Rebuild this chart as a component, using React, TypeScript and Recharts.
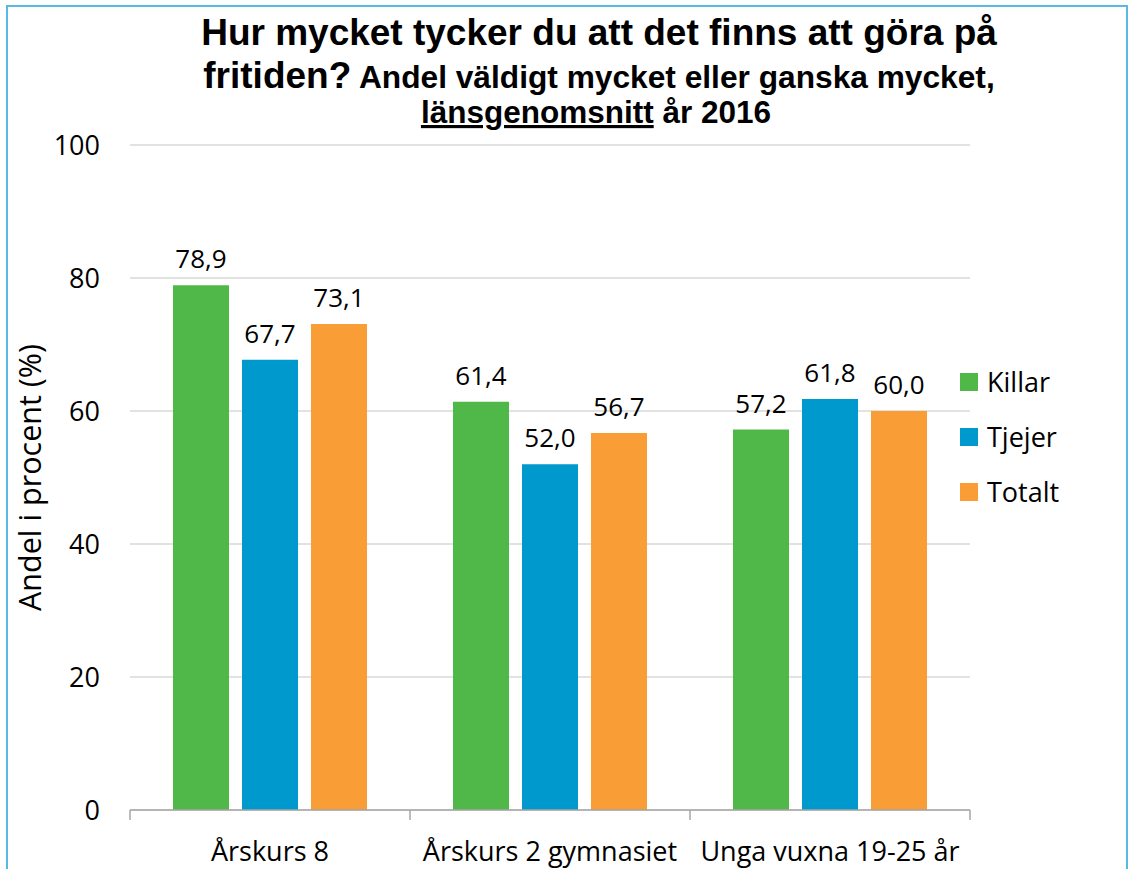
import React from 'react';
import { BarChart, Bar, XAxis, YAxis, CartesianGrid, LabelList, Legend } from 'recharts';

const categories = ['Årskurs 8', 'Årskurs 2 gymnasiet', 'Unga vuxna 19-25 år'];
const killar = [78.9, 61.4, 57.2];
const tjejer = [67.7, 52.0, 61.8];
const totalt = [73.1, 56.7, 60.0];
const yTicks = [0, 20, 40, 60, 80, 100];
const seriesNames = ['Killar', 'Tjejer', 'Totalt'];
const seriesColors = ['#50B848', '#0099CE', '#F99D36'];
const seriesValues = [killar, tjejer, totalt];

const data = categories.map((c, i) => {
  const row: any = { name: c };
  seriesNames.forEach((s, k) => {
    row[s] = seriesValues[k][i];
  });
  return row;
});

const FONT = '"Open Sans", "Noto Sans", sans-serif';
const TITLE_FONT = '"Liberation Sans", Arial, sans-serif';

const fmt = (v: any) => Number(v).toFixed(1).replace('.', ',');

const XTick = (props: any) => {
  const { x, y, payload, index, visibleTicksCount, width } = props;
  const half = payload && payload.offset ? payload.offset : width / visibleTicksCount / 2;
  const last = index === visibleTicksCount - 1;
  return (
    <g>
      <line x1={x - half} x2={x - half} y1={y} y2={y + 10} stroke="#A6A6A6" strokeWidth={1.5} />
      {last && <line x1={x + half} x2={x + half} y1={y} y2={y + 10} stroke="#A6A6A6" strokeWidth={1.5} />}
      <text x={x} y={y + 51} textAnchor="middle" fontSize={27} fontFamily={FONT} fill="#000">
        {payload.value}
      </text>
    </g>
  );
};

const LegendContent = () => (
  <div style={{ fontFamily: FONT, fontSize: 27, color: '#000' }}>
    {seriesNames.map((s, i) => (
      <div key={s} style={{ height: 55, display: 'flex', alignItems: 'center' }}>
        <div style={{ width: 18, height: 18, background: seriesColors[i], marginRight: 9 }} />
        <span>{s}</span>
      </div>
    ))}
  </div>
);

const YLabel = (props: any) => {
  const vb = props.viewBox || {};
  const cx = 29;
  const cy = (vb.y || 0) + (vb.height || 0) / 2;
  return (
    <text
      x={cx}
      y={cy}
      transform={`rotate(-90, ${cx}, ${cy})`}
      textAnchor="middle"
      dominantBaseline="central"
      fontSize={30.5}
      fontFamily={FONT}
      fill="#000"
    >
      Andel i procent (%)
    </text>
  );
};

export default function App() {
  return (
    <div style={{ position: 'fixed', left: 0, top: 0, width: 1130, height: 869, overflow: 'hidden', background: '#fff' }}>
      <div
        style={{
          position: 'absolute',
          left: 6,
          top: 5,
          width: 1122,
          height: 920,
          border: '2px solid #5AB9E3',
          boxSizing: 'border-box',
        }}
      />
      <div style={{ position: 'absolute', left: 0, top: 0 }}>
        <BarChart
          width={1130}
          height={869}
          data={data}
          margin={{ top: 145, right: 160, left: 0, bottom: 0 }}
          barCategoryGap={43}
          barGap={13}
        >
          <CartesianGrid horizontal vertical={false} stroke="#D9D9D9" strokeWidth={1.5} />
          <XAxis
            dataKey="name"
            height={59}
            axisLine={{ stroke: '#A6A6A6', strokeWidth: 1.5 }}
            tickLine={false}
            tickSize={0}
            tickMargin={0}
            interval={0}
            tick={<XTick />}
          />
          <YAxis
            width={130}
            domain={[0, 100]}
            ticks={yTicks}
            axisLine={false}
            tickLine={false}
            tickSize={6}
            tickMargin={24}
            tick={{ fontSize: 27, fill: '#000', fontFamily: FONT }}
            label={<YLabel />}
          />
          <Legend
            layout="horizontal"
            verticalAlign="middle"
            align="center"
            content={<LegendContent />}
            wrapperStyle={{ position: 'absolute', left: 960, top: 354, width: 150 }}
          />
          {seriesNames.map((s, i) => (
            <Bar key={s} dataKey={s} fill={seriesColors[i]} isAnimationActive={false}>
              <LabelList
                dataKey={s}
                position="top"
                offset={17}
                formatter={fmt}
                style={{ fontSize: 26, fill: '#000', fontFamily: FONT }}
              />
            </Bar>
          ))}
        </BarChart>
      </div>
      <svg width={1130} height={160} style={{ position: 'absolute', left: 0, top: 0, pointerEvents: 'none' }}>
        <text x={599} y={45} textAnchor="middle" fontFamily={TITLE_FONT} fontWeight="bold" fontSize={37} fill="#000">
          Hur mycket tycker du att det finns att göra på
        </text>
        <text x={599} y={88} textAnchor="middle" fontFamily={TITLE_FONT} fontWeight="bold" fill="#000">
          <tspan fontSize={37}>fritiden?</tspan>
          <tspan fontSize={31.7}> Andel väldigt mycket eller ganska mycket,</tspan>
        </text>
        <text x={596} y={123} textAnchor="middle" fontFamily={TITLE_FONT} fontWeight="bold" fontSize={31.5} fill="#000">
          <tspan style={{ textDecoration: 'underline' }}>länsgenomsnitt</tspan>
          <tspan> år 2016</tspan>
        </text>
      </svg>
    </div>
  );
}
